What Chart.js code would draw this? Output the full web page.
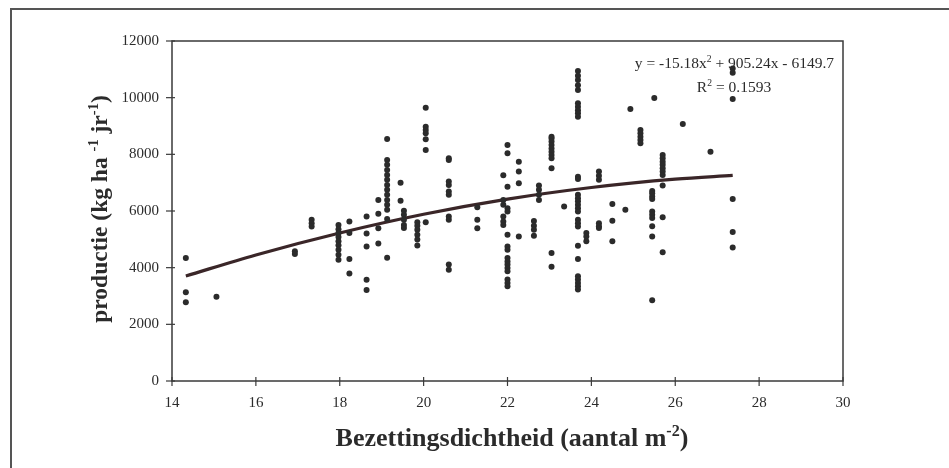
<!DOCTYPE html>
<html>
<head>
<meta charset="utf-8">
<script src="https://cdn.jsdelivr.net/npm/chart.js@4"></script>
<style>
  html, body { margin: 0; padding: 0; background: #fff; }
  #wrap { width: 949px; height: 468px; position: relative; }
</style>
</head>
<body>
<div id="wrap"><canvas id="chart"></canvas></div>
<script>
// bezettingsdichtheid per kolom (x) en de bijbehorende producties (y)
const densX = [14.33, 15.06, 16.93, 17.33, 17.97, 18.23, 18.64, 18.92, 19.13, 19.45, 19.53, 19.85,
  20.05, 20.6, 21.28, 21.9, 22.0, 22.27, 22.63, 22.75, 23.05, 23.35, 23.68, 23.88, 24.18,
  24.5, 24.81, 24.93, 25.17, 25.45, 25.5, 25.7, 26.18, 26.84, 27.37];
const prodY = [
  [4340, 3130, 2780],
  [2970],
  [4580, 4480],
  [5690, 5570, 5450],
  [5510, 5360, 5220, 5080, 4930, 4790, 4630, 4460, 4280],
  [5630, 5220, 4310, 3790],
  [5810, 5210, 4750, 3570, 3210],
  [6390, 5900, 5390, 4850],
  [8540, 7800, 7630, 7450, 7270, 7100, 6920, 6750, 6570, 6390, 6220, 6040, 5720, 4350],
  [7000, 6360],
  [6010, 5870, 5690, 5510, 5400],
  [5600, 5480, 5340, 5160, 4990, 4780],
  [9640, 8970, 8860, 8740, 8530, 8150, 5600],
  [7860, 7800, 7040, 6920, 6690, 6570, 5810, 5690, 4110, 3930],
  [6130, 5690, 5390],
  [7260, 6390, 6220, 5810, 5630, 5510],
  [8330, 8040, 6860, 6100, 5980, 5160, 4750, 4630, 4340, 4220, 4110, 3990, 3870, 3580, 3460, 3340],
  [7740, 7390, 6980, 5100],
  [5650, 5480, 5340, 5130],
  [6900, 6750, 6570, 6390],
  [8620, 8560, 8450, 8330, 8210, 8090, 7980, 7860, 7510, 4520, 4030],
  [6160],
  [10940, 10770, 10620, 10440, 10270, 9800, 9680, 9560, 9450, 9330, 7210, 7130, 6570, 6450,
   6340, 6220, 6100, 5980, 5690, 5570, 5450, 4770, 4310, 3700, 3580, 3460, 3340, 3230],
  [5220, 5100, 4930],
  [7390, 7240, 7100, 5570, 5460, 5400],
  [6250, 5660, 4930],
  [6040],
  [9600],
  [8860, 8740, 8620, 8510, 8390],
  [6710, 6630, 6510, 6420, 5980, 5870, 5750, 5460, 5100, 2850],
  [9990],
  [7980, 7860, 7740, 7630, 7510, 7390, 7270, 6900, 5780, 4540],
  [9070],
  [8090],
  [11030, 10880, 9950, 6420, 5260, 4710]
];

const trendX = [14.33, 16, 18, 20, 22, 24, 26, 27.37];
const trendY = [3705, 4450, 5225, 5885, 6420, 6830, 7125, 7255];

const xTicks = [14, 16, 18, 20, 22, 24, 26, 28, 30];
const yTicks = [0, 2000, 4000, 6000, 8000, 10000, 12000];

const punten = [];
densX.forEach((x, i) => prodY[i].forEach(y => punten.push({ x: x, y: y })));
const trend = trendX.map((x, i) => ({ x: x, y: trendY[i] }));

const serif = "'Liberation Serif', 'DejaVu Serif', serif";
const inkt = '#2b2b2b';

// tekst met superscript stukjes: parts = [[tekst, isSup], ...]
function tekenRijk(ctx, parts, x, y, size, bold, align) {
  const zwaar = bold ? 'bold ' : '';
  let breedte = 0;
  parts.forEach(p => {
    ctx.font = zwaar + (p[1] ? size * 0.62 : size) + 'px ' + serif;
    breedte += ctx.measureText(p[0]).width;
  });
  let cx = align === 'right' ? x - breedte : align === 'center' ? x - breedte / 2 : x;
  ctx.textAlign = 'left';
  ctx.textBaseline = 'alphabetic';
  parts.forEach(p => {
    ctx.font = zwaar + (p[1] ? size * 0.62 : size) + 'px ' + serif;
    ctx.fillText(p[0], cx, p[1] ? y - size * 0.38 : y);
    cx += ctx.measureText(p[0]).width;
  });
}

const extraTekening = {
  id: 'extraTekening',
  beforeDraw(chart) {
    const ctx = chart.ctx;
    ctx.save();
    ctx.fillStyle = '#fff';
    ctx.fillRect(0, 0, chart.width, chart.height);
    ctx.restore();
  },
  afterDraw(chart) {
    const ctx = chart.ctx;
    const a = chart.chartArea;
    const sx = chart.scales.x, sy = chart.scales.y;
    ctx.save();

    // buitenkader
    ctx.strokeStyle = '#555';
    ctx.lineWidth = 2;
    ctx.beginPath();
    ctx.moveTo(11, chart.height + 2);
    ctx.lineTo(11, 9);
    ctx.lineTo(chart.width + 2, 9);
    ctx.stroke();

    // plotkader
    ctx.strokeStyle = '#3a3a3a';
    ctx.lineWidth = 1.5;
    ctx.strokeRect(a.left, a.top, a.right - a.left, a.bottom - a.top);

    // tick streepjes
    ctx.lineWidth = 1.2;
    yTicks.forEach(v => {
      const py = sy.getPixelForValue(v);
      ctx.beginPath(); ctx.moveTo(a.left - 6, py); ctx.lineTo(a.left + 3, py); ctx.stroke();
    });
    xTicks.forEach(v => {
      const px = sx.getPixelForValue(v);
      ctx.beginPath(); ctx.moveTo(px, a.bottom - 4); ctx.lineTo(px, a.bottom + 5); ctx.stroke();
    });

    ctx.fillStyle = inkt;
    // vergelijking
    tekenRijk(ctx, [['y = -15.18x', false], ['2', true], [' + 905.24x - 6149.7', false]], 834, 68, 15.5, false, 'right');
    tekenRijk(ctx, [['R', false], ['2', true], [' = 0.1593', false]], 734, 92, 15.5, false, 'center');

    // as titels
    tekenRijk(ctx, [['Bezettingsdichtheid (aantal m', false], ['-2', true], [')', false]], 512, 446, 26, true, 'center');
    ctx.save();
    ctx.translate(107, 209);
    ctx.rotate(-Math.PI / 2);
    tekenRijk(ctx, [['productie (kg ha ', false], ['-1', true], [' jr', false], ['-1', true], [')', false]], 0, 0, 23.5, true, 'center');
    ctx.restore();

    ctx.restore();
  }
};

new Chart(document.getElementById('chart'), {
  type: 'scatter',
  data: {
    datasets: [
      { data: punten, backgroundColor: inkt, borderColor: inkt, pointRadius: 3, pointHoverRadius: 3, borderWidth: 0 },
      { data: trend, showLine: true, borderColor: '#3a2628', borderWidth: 3.2, pointRadius: 0,
        cubicInterpolationMode: 'monotone', fill: false }
    ]
  },
  options: {
    responsive: true,
    maintainAspectRatio: false,
    animation: false,
    layout: { padding: { left: 0, top: 41, right: 106, bottom: 0 } },
    plugins: { legend: { display: false }, tooltip: { enabled: false } },
    scales: {
      x: {
        type: 'linear', min: 14, max: 30,
        afterFit: s => { s.height = 87; },
        afterBuildTicks: s => { s.ticks = xTicks.map(v => ({ value: v })); },
        grid: { display: true, drawOnChartArea: false, drawTicks: false },
        border: { display: false },
        ticks: { padding: 13, color: inkt, font: { family: serif, size: 15 }, maxRotation: 0, callback: v => v }
      },
      y: {
        type: 'linear', min: 0, max: 12000,
        afterFit: s => { s.width = 172; },
        afterBuildTicks: s => { s.ticks = yTicks.map(v => ({ value: v })); },
        grid: { display: true, drawOnChartArea: false, drawTicks: false },
        border: { display: false },
        ticks: { padding: 13, color: inkt, font: { family: serif, size: 15 }, callback: v => v }
      }
    }
  },
  plugins: [extraTekening]
});
</script>
</body>
</html>
